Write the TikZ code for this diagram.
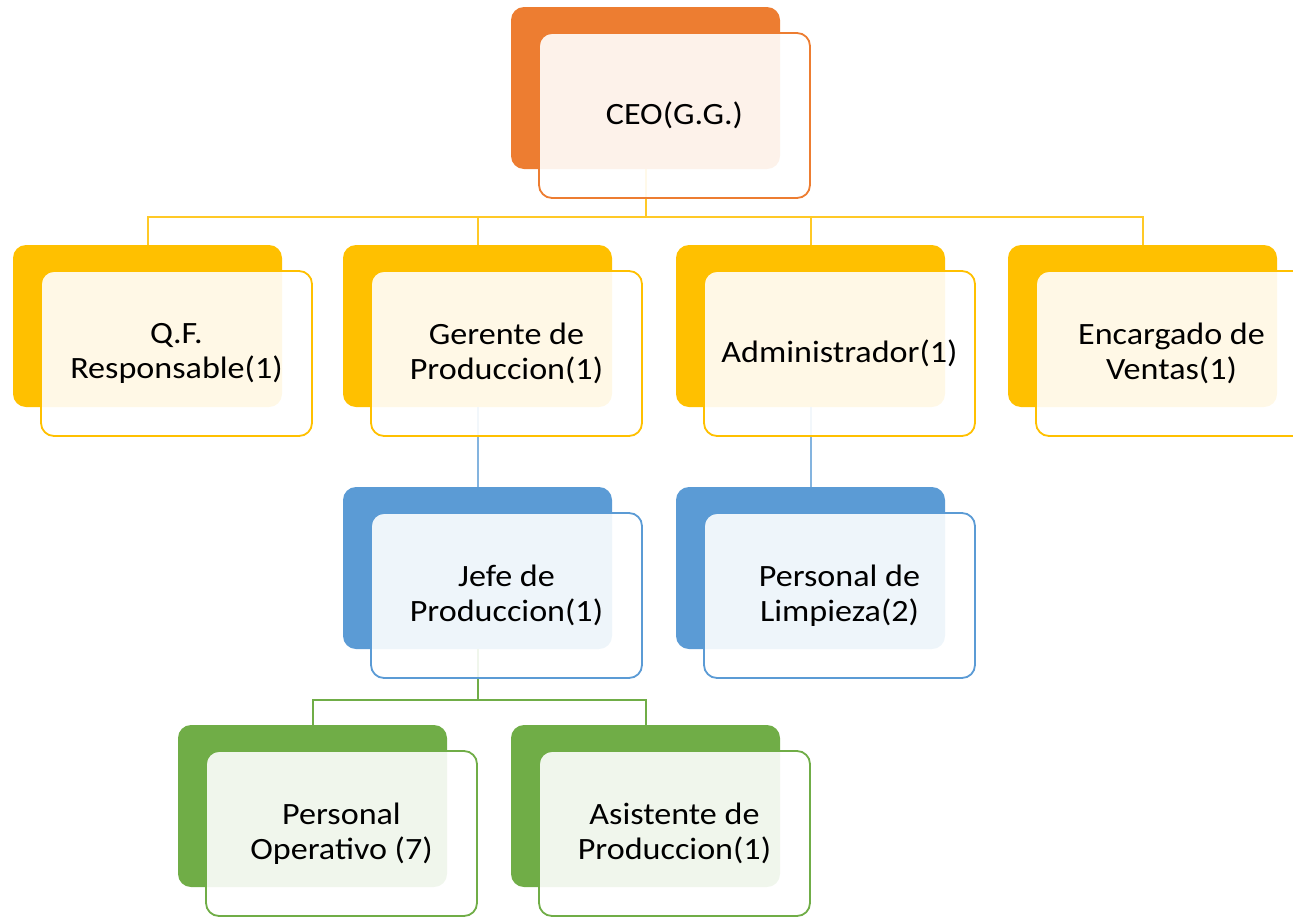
\documentclass[tikz,border=0pt]{standalone}
\usepackage{fontspec}
\setmainfont{Carlito}[FakeStretch=1.1]
\definecolor{corange}{HTML}{ED7D31}
\definecolor{cgold}{HTML}{FFC000}
\definecolor{cblue}{HTML}{5B9BD5}
\definecolor{cgreen}{HTML}{70AD47}
\begin{document}
\begin{tikzpicture}[x=1pt,y=-1pt,
  back/.style={rounded corners=13pt, minimum width=269pt, minimum height=162pt, inner sep=0pt, fill=#1},
  front/.style={draw=#1, line width=1.8pt, rounded corners=13pt, fill=white, fill opacity=0.9, text opacity=1,
    minimum width=271pt, minimum height=165pt, inner sep=0pt, align=center, font=\fontsize{31}{35}\selectfont},
  link/.style={line width=2pt, draw=#1}]
\clip (0,0) rectangle (1293,916);
% back boxes
\node[back=corange] (ceo-b) at (645.5,88) {};
\node[back=cgold] (qf-b) at (147.5,326) {};
\node[back=cgold] (ger-b) at (477.5,326) {};
\node[back=cgold] (adm-b) at (810.5,326) {};
\node[back=cgold] (enc-b) at (1142.5,326) {};
\node[back=cblue] (jefe-b) at (477.5,568) {};
\node[back=cblue] (limp-b) at (810.5,568) {};
\node[back=cgreen] (po-b) at (312.5,806) {};
\node[back=cgreen] (asis-b) at (645.5,806) {};
% connectors
\coordinate (bus1) at (0,217);
\coordinate (bus2) at (0,700);
\draw[link=cgold!85!white] (ceo-b.south) -- (ceo-b.south |- bus1) -| (qf-b.north);
\draw[link=cgold!85!white] (ceo-b.south |- bus1) -| (ger-b.north);
\draw[link=cgold!85!white] (ceo-b.south |- bus1) -| (adm-b.north);
\draw[link=cgold!85!white] (ceo-b.south |- bus1) -| (enc-b.north);
\draw[link=cblue!75!white] (ger-b.south) -- (jefe-b.north);
\draw[link=cblue!75!white] (adm-b.south) -- (limp-b.north);
\draw[link=cgreen] (jefe-b.south) -- (jefe-b.south |- bus2) -| (po-b.north);
\draw[link=cgreen] (jefe-b.south |- bus2) -| (asis-b.north);
% front boxes
\node[front=corange] (ceo) at (674.5,115.5) {CEO(G.G.)};
\node[front=cgold] (qf) at (176.5,353.5) {Q.F.\\Responsable(1)};
\node[front=cgold] (ger) at (506.5,353.5) {Gerente de\\Produccion(1)};
\node[front=cgold] (adm) at (839.5,353.5) {Administrador(1)};
\node[front=cgold] (enc) at (1171.5,353.5) {Encargado de\\Ventas(1)};
\node[front=cblue] (jefe) at (506.5,595.5) {Jefe de\\Produccion(1)};
\node[front=cblue] (limp) at (839.5,595.5) {Personal de\\Limpieza(2)};
\node[front=cgreen] (po) at (341.5,833.5) {Personal\\Operativo (7)};
\node[front=cgreen] (asis) at (674.5,833.5) {Asistente de\\Produccion(1)};
\end{tikzpicture}
\end{document}
